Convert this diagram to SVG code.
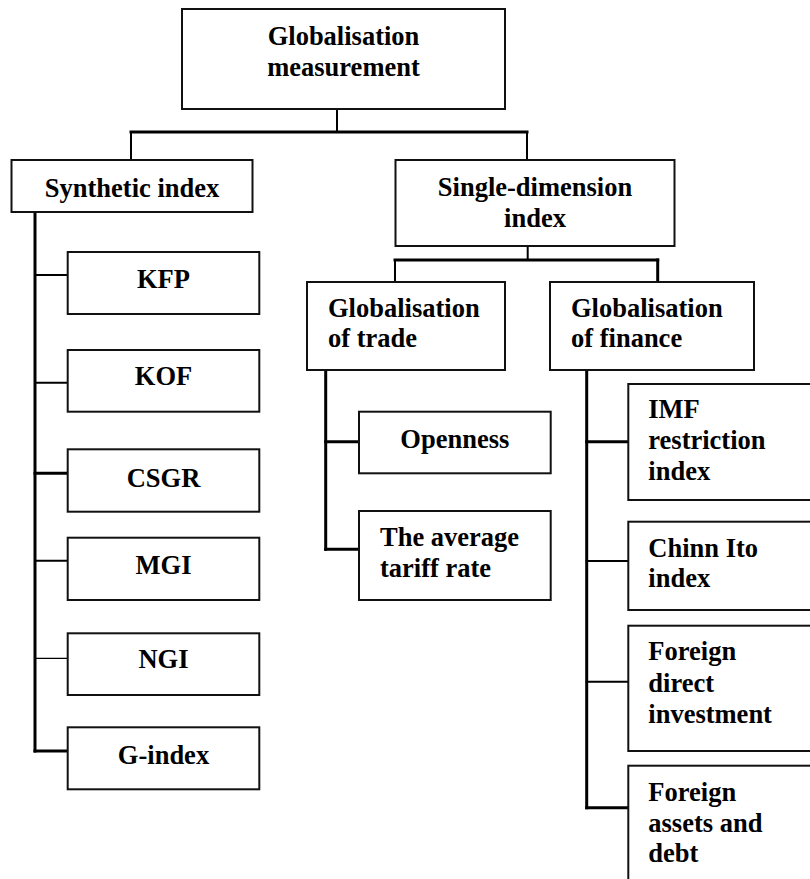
<svg xmlns="http://www.w3.org/2000/svg" width="810" height="879" viewBox="0 0 810 879">
<style>
  .box { fill: #fff; stroke: #111; stroke-width: 2; }
  .lbl { font-family: 'Liberation Serif', 'Times New Roman', Times, 'DejaVu Serif', serif; font-weight: 700; font-size: 26.5px; fill: #000; }
  .mid { text-anchor: middle; }
  .c { stroke: #000; fill: none; stroke-linecap: square; }
  .w1 { stroke-width: 1.2; }
  .w2 { stroke-width: 2; }
  .w3 { stroke-width: 3; }
</style>
<rect width="810" height="879" fill="#fff"/>
<g id="connectors">
  <line class="c w2" x1="337" y1="109" x2="337" y2="132"/>
  <line class="c w3" x1="131" y1="132" x2="527" y2="132"/>
  <line class="c w2" x1="131" y1="132" x2="131" y2="160"/>
  <line class="c w2" x1="527" y1="132" x2="527" y2="160"/>
  <line class="c w3" x1="35" y1="212" x2="35" y2="751"/>
  <line class="c w2" x1="35" y1="275" x2="67.7" y2="275"/>
  <line class="c w2" x1="35" y1="382.7" x2="67.7" y2="382.7"/>
  <line class="c w3" x1="35" y1="473.3" x2="67.7" y2="473.3"/>
  <line class="c w2" x1="35" y1="560.7" x2="67.7" y2="560.7"/>
  <line class="c w1" x1="35" y1="658.3" x2="67.7" y2="658.3"/>
  <line class="c w3" x1="35" y1="751" x2="67.7" y2="751"/>
  <line class="c w2" x1="527.7" y1="246" x2="527.7" y2="260"/>
  <line class="c w3" x1="395" y1="260" x2="657.7" y2="260"/>
  <line class="c w2" x1="395" y1="260" x2="395" y2="282"/>
  <line class="c w3" x1="657.7" y1="260" x2="657.7" y2="282"/>
  <line class="c w3" x1="325.7" y1="370" x2="325.7" y2="549.3"/>
  <line class="c w3" x1="325.7" y1="441.7" x2="359" y2="441.7"/>
  <line class="c w3" x1="325.7" y1="549.3" x2="359" y2="549.3"/>
  <line class="c w3" x1="586.7" y1="370" x2="586.7" y2="807.7"/>
  <line class="c w3" x1="586.7" y1="441.7" x2="628.3" y2="441.7"/>
  <line class="c w2" x1="586.7" y1="561" x2="628.3" y2="561"/>
  <line class="c w2" x1="586.7" y1="681.7" x2="628.3" y2="681.7"/>
  <line class="c w3" x1="586.7" y1="807.7" x2="628.3" y2="807.7"/>
</g>
<g id="globalisation-measurement">
  <rect class="box" x="182" y="9" width="323" height="100"/>
  <text class="lbl mid" x="343.5" y="45">Globalisation</text>
  <text class="lbl mid" x="343.5" y="76">measurement</text>
</g>
<g id="synthetic-index">
  <rect class="box" x="11.5" y="160" width="241" height="52"/>
  <text class="lbl mid" x="132" y="197">Synthetic index</text>
</g>
<g id="single-dimension-index">
  <rect class="box" x="395.5" y="160" width="279" height="86"/>
  <text class="lbl mid" x="535" y="196">Single-dimension</text>
  <text class="lbl mid" x="535" y="227">index</text>
</g>
<g id="kfp">
  <rect class="box" x="67.7" y="252" width="191.6" height="62"/>
  <text class="lbl mid" x="163.5" y="288.3">KFP</text>
</g>
<g id="kof">
  <rect class="box" x="67.7" y="350" width="191.6" height="61.7"/>
  <text class="lbl mid" x="163.5" y="385.3">KOF</text>
</g>
<g id="csgr">
  <rect class="box" x="67.7" y="449.3" width="191.6" height="62.4"/>
  <text class="lbl mid" x="163.5" y="486.5">CSGR</text>
</g>
<g id="mgi">
  <rect class="box" x="67.7" y="537.7" width="191.6" height="62.3"/>
  <text class="lbl mid" x="163.5" y="574">MGI</text>
</g>
<g id="ngi">
  <rect class="box" x="67.7" y="633.3" width="191.6" height="61.7"/>
  <text class="lbl mid" x="163.5" y="668.3">NGI</text>
</g>
<g id="g-index">
  <rect class="box" x="67.7" y="727.3" width="191.6" height="62"/>
  <text class="lbl mid" x="163.5" y="764">G-index</text>
</g>
<g id="globalisation-of-trade">
  <rect class="box" x="307" y="282" width="198" height="88"/>
  <text class="lbl" x="328" y="317">Globalisation</text>
  <text class="lbl" x="328" y="347.3">of trade</text>
</g>
<g id="globalisation-of-finance">
  <rect class="box" x="550" y="282" width="204" height="88"/>
  <text class="lbl" x="571" y="317">Globalisation</text>
  <text class="lbl" x="571" y="347.3">of finance</text>
</g>
<g id="openness">
  <rect class="box" x="359" y="411.7" width="191.7" height="61.6"/>
  <text class="lbl mid" x="454.8" y="448.3">Openness</text>
</g>
<g id="average-tariff-rate">
  <rect class="box" x="359" y="511" width="191.7" height="89"/>
  <text class="lbl" x="380" y="546">The average</text>
  <text class="lbl" x="380" y="576.7">tariff rate</text>
</g>
<g id="imf-restriction-index">
  <rect class="box" x="628.3" y="384" width="200" height="116"/>
  <text class="lbl" x="648.3" y="418.3">IMF</text>
  <text class="lbl" x="648.3" y="449.3">restriction</text>
  <text class="lbl" x="648.3" y="480">index</text>
</g>
<g id="chinn-ito-index">
  <rect class="box" x="628.3" y="521.7" width="200" height="88.3"/>
  <text class="lbl" x="648.3" y="556.7">Chinn Ito</text>
  <text class="lbl" x="648.3" y="587">index</text>
</g>
<g id="foreign-direct-investment">
  <rect class="box" x="628.3" y="625.7" width="200" height="125.3"/>
  <text class="lbl" x="648.3" y="660">Foreign</text>
  <text class="lbl" x="648.3" y="691.7">direct</text>
  <text class="lbl" x="648.3" y="722.7">investment</text>
</g>
<g id="foreign-assets-and-debt">
  <rect class="box" x="628.3" y="765.7" width="200" height="130"/>
  <text class="lbl" x="648.3" y="801">Foreign</text>
  <text class="lbl" x="648.3" y="831.7">assets and</text>
  <text class="lbl" x="648.3" y="861.7">debt</text>
</g>
</svg>
